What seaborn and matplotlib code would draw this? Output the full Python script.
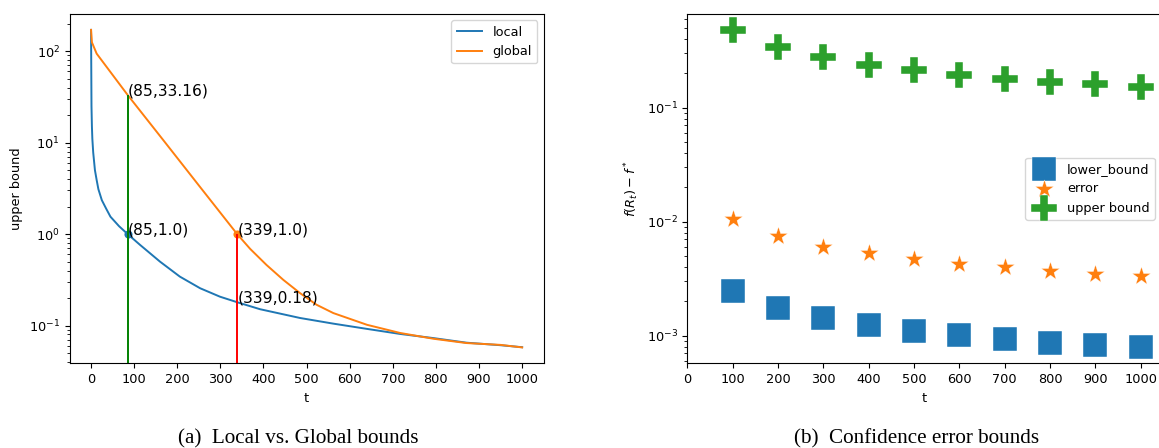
import numpy as np
import pandas as pd
import matplotlib
matplotlib.use("Agg")
import matplotlib.pyplot as plt
import seaborn as sns

# ---------------- data ----------------
t_local = [0, 1, 2, 3, 5, 9, 13, 17, 25, 35, 45, 65, 85, 114, 160, 206, 253,
           299, 339, 392, 485, 562, 640, 717, 794, 871, 950, 1000]
local_bound = [171, 25, 15, 11, 7.8, 5.0, 3.9, 3.1, 2.35, 1.9, 1.55, 1.22, 1.0,
               0.76, 0.50, 0.343, 0.256, 0.207, 0.18, 0.151, 0.121, 0.105,
               0.092, 0.081, 0.073, 0.065, 0.061, 0.058]

t_global = [0, 2, 13, 85, 170, 253, 339, 369, 407, 446, 485, 523, 562, 640,
            717, 794, 871, 950, 1000]
global_bound = [171, 125, 94, 33.16, 10.3, 3.27, 1.0, 0.69, 0.46, 0.316,
                0.226, 0.169, 0.137, 0.102, 0.083, 0.0718, 0.0644, 0.0615,
                0.0577]

mark_t = [85, 339]
mark_local = [1.0, 0.18]
mark_global = [33.16, 1.0]

t_conf = [100, 200, 300, 400, 500, 600, 700, 800, 900, 1000]
lower_bound = [0.00249, 0.00176, 0.00144, 0.00125, 0.00111, 0.00101, 0.00094,
               0.00087, 0.00083, 0.00079]
error_vals = [0.01057, 0.0075, 0.00604, 0.00529, 0.00472, 0.00427, 0.00399,
              0.00372, 0.00348, 0.00333]
upper_bound = [0.481, 0.339, 0.277, 0.239, 0.213, 0.195, 0.180, 0.169, 0.160,
               0.151]

xticks = list(range(0, 1001, 100))

# ---------------- style ----------------
FS = 9.3
plt.rcParams.update({
    "font.size": FS,
    "axes.labelsize": FS,
    "xtick.labelsize": FS,
    "ytick.labelsize": FS,
    "legend.fontsize": FS,
})

BLUE = "#1f77b4"
ORANGE = "#ff7f0e"
GREEN = "#2ca02c"

fig = plt.figure(figsize=(11.59, 4.48), dpi=100)
W, H = 1159.0, 448.0
ax1 = fig.add_axes([69.5 / W, (H - 363.3) / H, 474.2 / W, 349.3 / H])
ax2 = fig.add_axes([687.5 / W, (H - 363.3) / H, 473.5 / W, 349.3 / H])

# ---------------- left panel ----------------
df_loc = pd.DataFrame({"t": t_local, "v": local_bound})
df_glo = pd.DataFrame({"t": t_global, "v": global_bound})
sns.lineplot(data=df_loc, x="t", y="v", ax=ax1, color=BLUE, label="local",
             lw=1.4, estimator=None, sort=False)
sns.lineplot(data=df_glo, x="t", y="v", ax=ax1, color=ORANGE, label="global",
             lw=1.4, estimator=None, sort=False)
ax1.set_yscale("log")
ax1.autoscale_view()
ylim1 = ax1.get_ylim()

ax1.vlines(mark_t[0], ylim1[0], mark_global[0], color="g", lw=1.4)
ax1.vlines(mark_t[1], ylim1[0], mark_global[1], color="r", lw=1.4)
sns.scatterplot(x=[mark_t[0]], y=[mark_local[0]], ax=ax1, color=BLUE, s=34,
                linewidth=0, legend=False)
sns.scatterplot(x=[mark_t[1]], y=[mark_global[1]], ax=ax1, color=ORANGE, s=34,
                linewidth=0, legend=False)

for tt, vv in zip(mark_t, mark_global):
    ax1.text(tt, vv, f"({tt},{vv})", fontsize=11.2)
for tt, vv in zip(mark_t, mark_local):
    if (tt, vv) != (mark_t[1], mark_global[1]):
        ax1.text(tt, vv, f"({tt},{vv})", fontsize=11.2)

ax1.set_ylim(ylim1)
ax1.set_xticks(xticks)
ax1.set_xlim(-50, 1050)
ax1.set_xlabel("t")
ax1.set_ylabel("upper bound")
ax1.legend(loc="upper right")

# ---------------- right panel ----------------
sns.scatterplot(x=t_conf, y=lower_bound, ax=ax2, marker="s", s=320,
                color=BLUE, edgecolor="w", linewidth=0.3, label="lower_bound")
sns.scatterplot(x=t_conf, y=error_vals, ax=ax2, marker="*", s=190,
                color=ORANGE, edgecolor="w", linewidth=0.2, label="error")
sns.scatterplot(x=t_conf, y=upper_bound, ax=ax2, marker="P", s=340,
                color=GREEN, edgecolor="w", linewidth=0.3, label="upper bound")
ax2.set_yscale("log")
ax2.autoscale_view()
x_right = ax2.get_xlim()[1]
ax2.set_xlim(0, x_right)
ax2.set_xticks(xticks)
ax2.set_xlabel("t")
ax2.set_ylabel(r"$f(R_t) - f^*$")
ax2.legend(loc="center right")

# ---------------- captions ----------------
cap_font = ["Liberation Serif", "DejaVu Serif"]
fig.text(298 / W, 5 / H, "(a)  Local vs. Global bounds", ha="center",
         va="baseline", fontsize=15.2, family=cap_font)
fig.text(916.6 / W, 5 / H, "(b)  Confidence error bounds", ha="center",
         va="baseline", fontsize=15.2, family=cap_font)

fig.savefig("out.png", dpi=100)
